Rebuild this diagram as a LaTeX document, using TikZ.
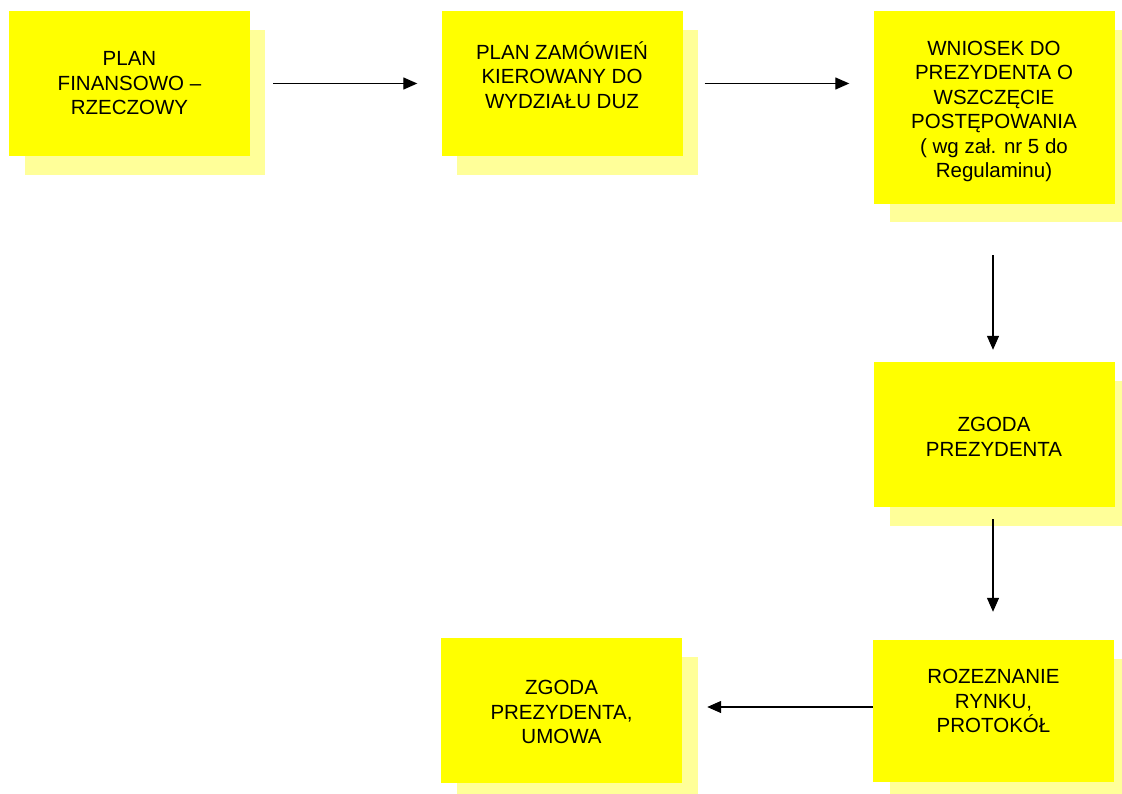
\documentclass[tikz,border=0pt]{standalone}
\usepackage{fontspec}
\setmainfont{Liberation Sans}
\usetikzlibrary{arrows.meta}
\definecolor{boxyellow}{HTML}{FFFF00}
\definecolor{shadowyellow}{HTML}{FFFF99}
\tikzset{
  box/.style={rectangle, fill=boxyellow, draw=none, minimum width=241pt, minimum height=145pt, inner sep=0pt},
  txt/.style={align=center, font=\fontsize{20.5}{24.5}\selectfont, inner sep=0pt},
  arr/.style={line width=1.3pt, -{Triangle[length=14pt,width=12pt]}}
}
\begin{document}
\begin{tikzpicture}[x=1pt,y=-1pt]
\useasboundingbox (0,0) rectangle (1122,794);
% shadows
\fill[shadowyellow] (25,30) rectangle (265,175);
\fill[shadowyellow] (457,30) rectangle (698,175);
\fill[shadowyellow] (890,30) rectangle (1122,222);
\fill[shadowyellow] (890,381) rectangle (1122,526);
\fill[shadowyellow] (457,657) rectangle (698,794);
\fill[shadowyellow] (890,659) rectangle (1122,794);
% boxes
\node[box] (b1) at (129.5,83.5) {};
\node[box] (b2) at (562,83.5) {};
\node[box, minimum height=193pt] (b3) at (994,107.5) {};
\node[box] (b4) at (994,434.5) {};
\node[box] (b5) at (561.5,710.5) {};
\node[box, minimum height=142pt] (b6) at (993.5,711) {};
% texts
\node[txt] (t1) at ([yshift=0pt]b1.center) {PLAN\\FINANSOWO –\\RZECZOWY};
\node[txt] (t2) at ([yshift=8.5pt]b2.center) {PLAN ZAMÓWIEŃ\\KIEROWANY DO\\WYDZIAŁU DUZ};
\node[txt] (t3) at ([yshift=-4pt]b3.center) {WNIOSEK DO\\PREZYDENTA O\\WSZCZĘCIE\\POSTĘPOWANIA\\( wg zał. nr 5 do\\Regulaminu)};
\node[txt] (t4) at ([yshift=-2.5pt]b4.center) {ZGODA\\PREZYDENTA};
\node[txt] (t5) at ([yshift=-1.5pt]b5.center) {ZGODA\\PREZYDENTA,\\UMOWA};
\node[txt] (t6) at ([yshift=10pt]b6.center) {ROZEZNANIE\\RYNKU,\\PROTOKÓŁ};
% connectors
\draw[arr, shorten <=23pt, shorten >=24pt] (b1.east) -- (b2.west);
\draw[arr, shorten <=22pt, shorten >=24pt] (b2.east) -- (b3.west |- b2.east);
\draw[arr, shorten <=51pt, shorten >=12pt] ([xshift=-1pt]b3.south) -- ([xshift=-1pt]b4.north);
\draw[arr, shorten <=12pt, shorten >=28pt] ([xshift=-1pt]b4.south) -- ([xshift=-0.5pt]b6.north);
\draw[arr, shorten >=25pt] ([yshift=4pt]b6.west) -- ([yshift=3.5pt]b5.east);
\end{tikzpicture}
\end{document}
